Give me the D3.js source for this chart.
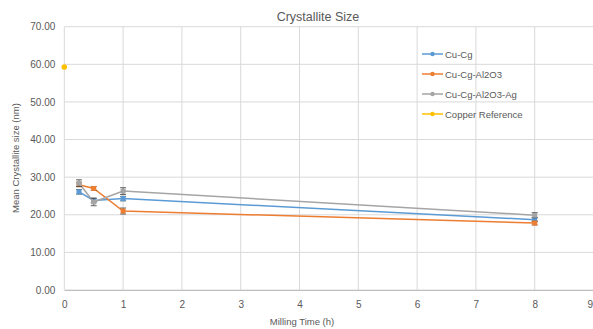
<!DOCTYPE html>
<html><head><meta charset="utf-8">
<script src="https://cdn.jsdelivr.net/npm/d3@7"></script>
<style>body{margin:0;background:#fff}svg{display:block}text{font-family:"Liberation Sans",Arial,sans-serif;fill:#595959}</style>
</head><body><svg id="c" width="593" height="329"></svg>
<script>
const seriesNames = ["Cu-Cg","Cu-Cg-Al2O3","Cu-Cg-Al2O3-Ag","Copper Reference"];
const colors = ["#5B9BD5","#ED7D31","#A5A5A5","#FFC000"];
const millTimes = [0.25,0.5,1,8];
const cuCg = [26.1,23.8,24.3,18.7];
const cuCgErr = [0.6,0.6,0.6,0.6];
const cuCgAl = [28.0,27.0,21.0,17.8];
const cuCgAlErr = [0.5,0.5,0.8,0.5];
const cuCgAlAg = [28.4,23.4,26.3,19.9];
const cuCgAlAgErr = [0.9,1.0,0.9,0.7];
const refTimes = [0];
const refVals = [59.3];
const xTicks = [0,1,2,3,4,5,6,7,8,9];
const yTicks = [0,10,20,30,40,50,60,70];

const svg = d3.select("#c");
const x = d3.scaleLinear().domain([0,9]).range([64.3,593.5]);
const y = d3.scaleLinear().domain([0,70]).range([290,26.7]);

// gridlines
svg.append("g").selectAll("line").data(yTicks).join("line")
  .attr("x1",x(0)).attr("x2",x(9)).attr("y1",d=>y(d)).attr("y2",d=>y(d))
  .attr("stroke","#D9D9D9").attr("stroke-width",1);
svg.append("g").selectAll("line").data(xTicks).join("line")
  .attr("x1",d=>x(d)).attr("x2",d=>x(d)).attr("y1",y(0)).attr("y2",y(70))
  .attr("stroke","#D9D9D9").attr("stroke-width",1);

// axes
const ya = svg.append("g").attr("transform",`translate(${x(0)},0)`)
  .call(d3.axisLeft(y).tickValues(yTicks).tickFormat(d3.format(".2f")).tickSize(0).tickPadding(9));
ya.select(".domain").remove();
ya.selectAll("text").attr("font-size",10).style("fill","#595959").attr("font-family","Liberation Sans, Arial, sans-serif");
const xa = svg.append("g").attr("transform",`translate(0,${y(0)})`)
  .call(d3.axisBottom(x).tickValues(xTicks).tickFormat(d3.format("d")).tickSize(0).tickPadding(11));
xa.select(".domain").attr("stroke","#BFBFBF");
xa.selectAll("text").attr("font-size",10).style("fill","#595959").attr("font-family","Liberation Sans, Arial, sans-serif");
xa.selectAll(".tick").filter(d=>d===9).select("text").attr("text-anchor","end").attr("dx",-1);

// titles
svg.append("text").attr("x",318).attr("y",21).attr("text-anchor","middle").attr("font-size",12.5).text("Crystallite Size");
svg.append("text").attr("x",302).attr("y",325).attr("text-anchor","middle").attr("font-size",9.5).text("Milling Time (h)");
svg.append("text").attr("transform","translate(19,158) rotate(-90)").attr("text-anchor","middle").attr("font-size",9.5).text("Mean Crystallite size (nm)");

// series
const series = [
  {vals:cuCg, err:cuCgErr, xs:millTimes},
  {vals:cuCgAl, err:cuCgAlErr, xs:millTimes},
  {vals:cuCgAlAg, err:cuCgAlAgErr, xs:millTimes},
  {vals:refVals, err:null, xs:refTimes}
];
const line = d3.line().x(d=>x(d[0])).y(d=>y(d[1]));
series.forEach((s,i)=>{
  const pts = s.xs.map((t,j)=>[t,s.vals[j], s.err?s.err[j]:0]);
  const g = svg.append("g");
  if(pts.length>1) g.append("path").datum(pts).attr("d",line).attr("fill","none").attr("stroke",colors[i]).attr("stroke-width",1.5);
  if(s.err){
    g.selectAll(".eb").data(pts).join("path")
      .attr("d",d=>`M${x(d[0])},${y(d[1]-d[2])}V${y(d[1]+d[2])}M${x(d[0])-3},${y(d[1]-d[2])}h6M${x(d[0])-3},${y(d[1]+d[2])}h6`)
      .attr("stroke","#404040").attr("stroke-width",0.8).attr("fill","none");
    g.selectAll("rect").data(pts).join("rect")
      .attr("x",d=>x(d[0])-2.5).attr("y",d=>y(d[1])-2.5).attr("width",5).attr("height",5).attr("fill",colors[i]);
  } else {
    g.selectAll("circle").data(pts).join("circle")
      .attr("cx",d=>x(d[0])).attr("cy",d=>y(d[1])).attr("r",2.8).attr("fill",colors[i]);
  }
});

// legend
const lg = svg.append("g");
seriesNames.forEach((n,i)=>{
  const yy = 54 + i*20;
  lg.append("line").attr("x1",422).attr("x2",443).attr("y1",yy).attr("y2",yy).attr("stroke",colors[i]).attr("stroke-width",1.5);
  lg.append("circle").attr("cx",432.5).attr("cy",yy).attr("r",2.2).attr("fill",colors[i]);
  lg.append("text").attr("x",445).attr("y",yy+3.5).attr("font-size",9.5).text(n);
});
</script></body></html>
